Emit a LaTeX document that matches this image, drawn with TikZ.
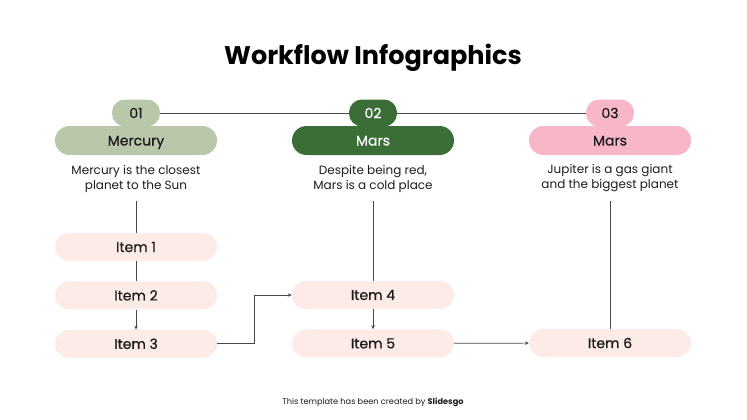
\documentclass[tikz,border=0pt]{standalone}
\usepackage{fontspec}
\setmainfont{Poppins}
\newfontfamily\medfont{Poppins}[FakeBold=0.7]
\usepackage{tikz}
\usetikzlibrary{positioning, arrows.meta, calc}

\definecolor{sage}{HTML}{B9C7AA}
\definecolor{forest}{HTML}{3B6D36}
\definecolor{rose}{HTML}{F8B6C9}
\definecolor{blush}{HTML}{FCEBE6}
\definecolor{ink}{HTML}{1C1C1C}
\definecolor{wire}{HTML}{474747}

\begin{document}
\begin{tikzpicture}[x=1pt, y=-1pt, node distance=20pt,
    pill/.style={rectangle, rounded corners=13pt, minimum width=48pt, minimum height=27pt, font=\medfont\fontsize{14}{16}\selectfont},
    bar/.style={rectangle, rounded corners=14.5pt, minimum width=162pt, minimum height=29pt, text height=10pt, text depth=0pt, font=\medfont\fontsize{14}{16}\selectfont},
    itembox/.style={rectangle, rounded corners=14pt, fill=blush, minimum width=162pt, minimum height=28pt, text=ink, font=\medfont\fontsize{14}{16}\selectfont},
    desc/.style={align=center, text=ink, inner ysep=9pt, font=\fontsize{12}{15}\selectfont},
    conn/.style={draw=wire, line width=0.7pt},
    tip/.style={-{Stealth[length=4pt, width=3.5pt]}}]
    \useasboundingbox (0,0) rectangle (747,420);

    % Title
    \node[anchor=base, font=\bfseries\fontsize{25.5}{28}\selectfont, text=black] (title) at (373,64) {Workflow Infographics};

    % Number pills and header bars
    \node[pill, fill=sage, text=ink] (num1) at (136,113) {01};
    \node[bar, fill=sage, text=ink] (head1) at (136,140.5) {Mercury};
    \node[pill, fill=forest, text=white] (num2) at (373,113) {02};
    \node[bar, fill=forest, text=white] (head2) at (373,140.5) {Mars};
    \node[pill, fill=rose, text=ink] (num3) at (610,113) {03};
    \node[bar, fill=rose, text=ink] (head3) at (610,140.5) {Mars};

    % Descriptions
    \node[desc] (desc1) at (136,178.5) {Mercury is the closest\\planet to the Sun};
    \node[desc] (desc2) at (373,178.5) {Despite being red,\\Mars is a cold place};
    \node[desc] (desc3) at (610,178.5) {Jupiter is a gas giant\\and the biggest planet};

    % Items
    \node[itembox] (item1) at (136,247) {Item 1};
    \node[itembox, below=of item1] (item2) {Item 2};
    \node[itembox, below=of item2] (item3) {Item 3};
    \node[itembox] (item4) at (373,295) {Item 4};
    \node[itembox, below=of item4] (item5) {Item 5};
    \node[itembox] (item6) at (610,343) {Item 6};

    % Footer
    \node[font=\fontsize{8.2}{10}\selectfont, text=ink] (credit) at (373,402) {This template has been created by \textbf{Slidesgo}};

    % Connectors
    \draw[conn] (num1) -- (num2);
    \draw[conn] (num2) -- (num3);
    \draw[conn] (desc1) -- (item1);
    \draw[conn] (item1) -- (item2);
    \draw[conn, tip] (item2) -- (item3);
    \draw[conn, tip] (item3.east) -| ($(item3.east)!0.5!(item4.west)$) |- (item4.west);
    \draw[conn] (desc2) -- (item4);
    \draw[conn, tip] (item4) -- (item5);
    \draw[conn, tip] (item5) -- (item6);
    \draw[conn] (desc3) -- (item6);
\end{tikzpicture}
\end{document}
